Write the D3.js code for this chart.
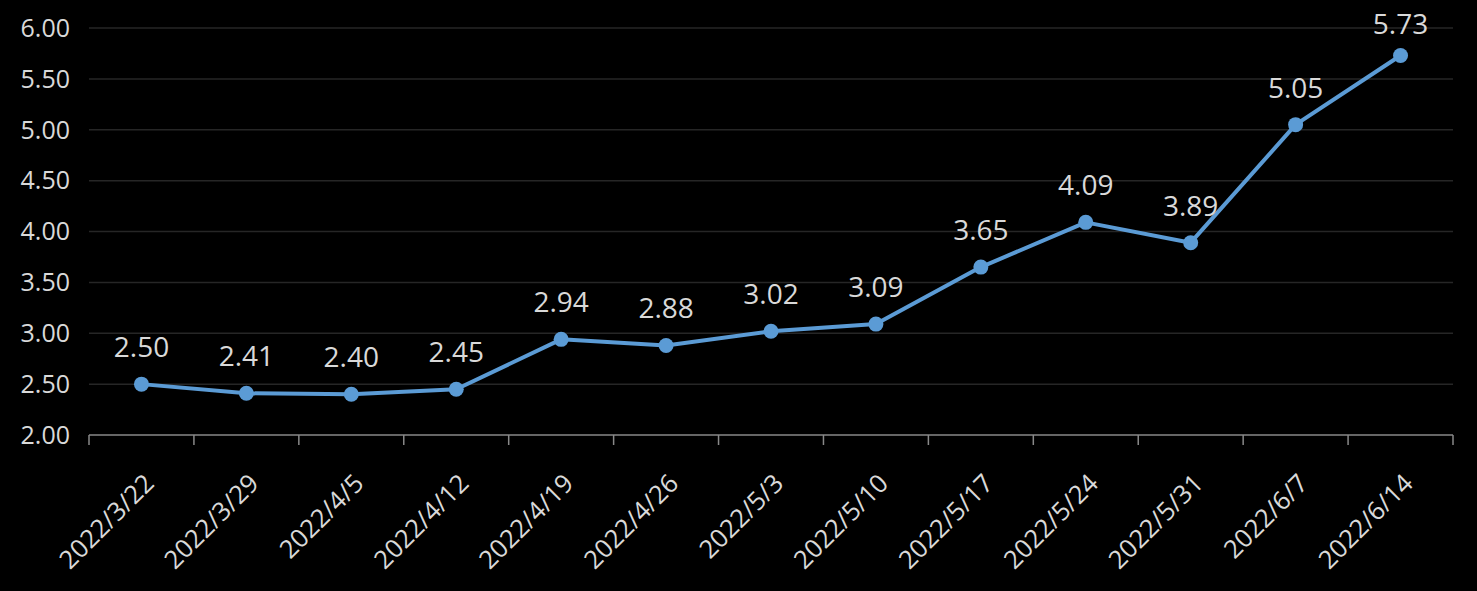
<!DOCTYPE html>
<html><head><meta charset="utf-8">
<script src="https://cdn.jsdelivr.net/npm/d3@7/dist/d3.min.js"></script>
<style>
html,body{margin:0;padding:0;background:#000;}
svg{display:block;}
text{font-family:"Open Sans","Noto Sans",sans-serif;fill:#d9d9d9;}
</style></head>
<body>
<svg id="chart" width="1477" height="591"></svg>
<script>
const categories = ["2022/3/22","2022/3/29","2022/4/5","2022/4/12","2022/4/19","2022/4/26","2022/5/3","2022/5/10","2022/5/17","2022/5/24","2022/5/31","2022/6/7","2022/6/14"];
const values = [2.50,2.41,2.40,2.45,2.94,2.88,3.02,3.09,3.65,4.09,3.89,5.05,5.73];
const yTicks = [2.00,2.50,3.00,3.50,4.00,4.50,5.00,5.50,6.00];

const W = 1477, H = 591;
const m = {left: 89, right: 24, top: 28, bottom: 156};
const svg = d3.select("#chart");

const x = d3.scaleBand().domain(categories).range([m.left, W - m.right]);
const y = d3.scaleLinear().domain([2, 6]).range([H - m.bottom, m.top]);

// gridlines
svg.append("g").selectAll("line").data(yTicks.slice(1)).join("line")
  .attr("x1", m.left).attr("x2", W - m.right)
  .attr("y1", d => y(d)).attr("y2", d => y(d))
  .attr("stroke", "#262626").attr("stroke-width", 1.5);

// y labels
svg.append("g").selectAll("text").data(yTicks).join("text")
  .attr("x", m.left - 19).attr("y", d => y(d)).attr("dy", "0.35em")
  .attr("text-anchor", "end").attr("font-size", 25)
  .text(d => d.toFixed(2));

// x axis line and ticks
const ax = svg.append("g");
ax.append("line").attr("x1", m.left).attr("x2", W - m.right)
  .attr("y1", y(2)).attr("y2", y(2)).attr("stroke", "#898989").attr("stroke-width", 1.5);
const edges = categories.map(c => x(c)).concat([x(categories[categories.length-1]) + x.bandwidth()]);
ax.selectAll("line.t").data(edges).join("line").attr("class","t")
  .attr("x1", d => d).attr("x2", d => d)
  .attr("y1", y(2)).attr("y2", y(2) + 10)
  .attr("stroke", "#898989").attr("stroke-width", 1.5);

// x labels
svg.append("g").selectAll("text").data(categories).join("text")
  .attr("transform", d => `translate(${x(d) + x.bandwidth()/2 + 14},${y(2) + 50}) rotate(-45)`)
  .attr("text-anchor", "end").attr("font-size", 25.5)
  .text(d => d);

// line
const cx = d => x(d) + x.bandwidth()/2;
svg.append("path").datum(values)
  .attr("fill", "none").attr("stroke", "#5b9bd5").attr("stroke-width", 4)
  .attr("stroke-linejoin", "round")
  .attr("d", d3.line().x((d,i) => cx(categories[i])).y(d => y(d)));

svg.append("g").selectAll("circle").data(values).join("circle")
  .attr("cx", (d,i) => cx(categories[i])).attr("cy", d => y(d)).attr("r", 7.5)
  .attr("fill", "#5b9bd5");

// data labels
svg.append("g").selectAll("text").data(values).join("text")
  .attr("x", (d,i) => cx(categories[i])).attr("y", d => Math.max(y(d) - 27, 34))
  .attr("text-anchor", "middle").attr("font-size", 28)
  .text(d => d.toFixed(2));
</script>
</body></html>
